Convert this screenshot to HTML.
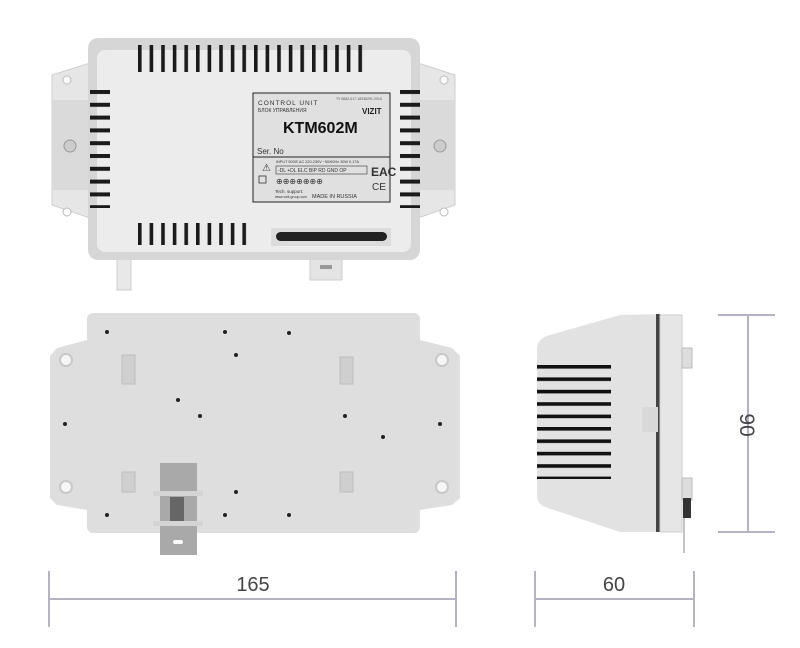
<!DOCTYPE html>
<html><head><meta charset="utf-8"><style>
html,body{margin:0;padding:0;background:#fff}
svg{display:block}
text{font-family:"Liberation Sans",sans-serif}
</style></head><body>
<svg width="800" height="648" viewBox="0 0 800 648" xmlns="http://www.w3.org/2000/svg">
<defs>
<pattern id="pv" x="138" y="0" width="11.6" height="10" patternUnits="userSpaceOnUse"><rect x="0" y="0" width="3.6" height="10" fill="#1a1a1a"/></pattern>
<pattern id="ph" x="0" y="90" width="10" height="12.8" patternUnits="userSpaceOnUse"><rect x="0" y="0" width="10" height="4" fill="#1a1a1a"/></pattern>
<pattern id="ps" x="0" y="365" width="10" height="12.4" patternUnits="userSpaceOnUse"><rect x="0" y="0" width="10" height="3.6" fill="#111"/></pattern>
</defs>

<!-- ===== TOP VIEW ===== -->
<polygon points="90,63 52,75 52,205 90,218" fill="#e6e6e6" stroke="#cfcfcf"/>
<polygon points="418,63 455,75 455,205 418,218" fill="#e6e6e6" stroke="#cfcfcf"/>
<rect x="52" y="100" width="38" height="90" fill="#dadada"/>
<rect x="418" y="100" width="37" height="90" fill="#dadada"/>
<circle cx="67" cy="80" r="4" fill="#fff" stroke="#bbb"/>
<circle cx="67" cy="212" r="4" fill="#fff" stroke="#bbb"/>
<circle cx="444" cy="80" r="4" fill="#fff" stroke="#bbb"/>
<circle cx="444" cy="212" r="4" fill="#fff" stroke="#bbb"/>
<circle cx="70" cy="146" r="6" fill="#ccc" stroke="#999"/>
<circle cx="440" cy="146" r="6" fill="#ccc" stroke="#999"/>
<rect x="117" y="254" width="14" height="36" fill="#e8e8e8" stroke="#ccc"/>
<rect x="310" y="252" width="32" height="28" fill="#e4e4e4" stroke="#ccc"/>
<rect x="320" y="265" width="12" height="4" fill="#999"/>
<rect x="88" y="38" width="332" height="222" rx="10" fill="#d6d6d6"/>
<rect x="97" y="50" width="314" height="202" rx="8" fill="#ececec"/>
<rect x="138" y="45" width="232" height="27" fill="url(#pv)"/>
<rect x="138" y="223" width="116" height="22" fill="url(#pv)"/>
<rect x="90" y="90" width="20" height="118" fill="url(#ph)"/>
<rect x="400" y="90" width="20" height="118" fill="url(#ph)"/>
<rect x="271" y="228" width="120" height="18" fill="#dcdcdc"/>
<rect x="276" y="232" width="111" height="9" rx="4.5" fill="#222"/>
<!-- label -->
<rect x="253" y="93" width="137" height="109" fill="#e0e0e0" stroke="#222" stroke-width="1"/>
<line x1="253" y1="157" x2="390" y2="157" stroke="#222"/>
<text x="258" y="105" font-size="6.5" fill="#333" letter-spacing="1">CONTROL UNIT</text>
<text x="258" y="112" font-size="5" fill="#333">БЛОК УПРАВЛЕНИЯ</text>
<text x="336" y="100" font-size="3.5" fill="#555">ТУ 6652-017-18336291-2015</text>
<text x="362" y="114" font-size="8" font-weight="bold" fill="#222">VIZIT</text>
<text x="283" y="133" font-size="16" font-weight="bold" fill="#111">KTM602M</text>
<text x="257" y="154" font-size="8" fill="#333">Ser. No</text>
<text x="262" y="171" font-size="10" fill="#333">⚠</text>
<text x="276" y="163" font-size="3.8" fill="#333">INPUT 50GE AC 220-230V ~50/60Hz 30W 0.17A</text>
<rect x="259" y="176" width="7" height="7" fill="none" stroke="#333" stroke-width="0.8"/>
<g font-size="5" fill="#333">
<rect x="276" y="166" width="91" height="8" fill="none" stroke="#333" stroke-width="0.6"/>
<text x="278" y="172">-DL +DL ELC BIP  RD GND OP</text>
<text x="276" y="184" font-size="8">⊕⊕⊕⊕⊕⊕⊕</text>
<text x="275" y="193" font-size="4.5">Tech. support:</text>
<text x="275" y="198" font-size="3.5">www.vizit-group.com</text>
<text x="312" y="198" font-size="5.5">MADE  IN  RUSSIA</text>
<text x="371" y="176" font-size="12" font-weight="bold">EAC</text>
<text x="372" y="190" font-size="10">CE</text>
</g>

<!-- ===== BACK VIEW ===== -->
<polygon points="87,340 57,348 50,356 50,498 57,505 87,510 87,340" fill="#dedede"/>
<polygon points="420,340 452,348 460,356 460,498 452,505 420,510" fill="#dedede"/>
<rect x="87" y="313" width="333" height="220" rx="6" fill="#dedede"/>
<g fill="#f6f6f6" stroke="#c8c8c8" stroke-width="2">
<circle cx="66" cy="360" r="6"/><circle cx="442" cy="360" r="6"/>
<circle cx="66" cy="487" r="6"/><circle cx="442" cy="487" r="6"/>
</g>
<g fill="#222">
<circle cx="107" cy="332" r="2"/><circle cx="225" cy="332" r="2"/><circle cx="289" cy="333" r="2"/>
<circle cx="236" cy="355" r="2"/><circle cx="178" cy="400" r="2"/><circle cx="200" cy="416" r="2"/>
<circle cx="345" cy="416" r="2"/><circle cx="65" cy="424" r="2"/><circle cx="440" cy="424" r="2"/>
<circle cx="383" cy="437" r="2"/><circle cx="236" cy="492" r="2"/><circle cx="107" cy="515" r="2"/>
<circle cx="225" cy="515" r="2"/><circle cx="289" cy="515" r="2"/>
</g>
<g fill="#cfcfcf" stroke="#bdbdbd">
<rect x="122" y="355" width="13" height="29"/><rect x="340" y="357" width="13" height="27"/>
<rect x="122" y="472" width="13" height="20"/><rect x="340" y="472" width="13" height="20"/>
</g>
<rect x="160" y="463" width="37" height="92" fill="#a9a9a9"/>
<rect x="153" y="491" width="50" height="5" fill="#d4d4d4"/>
<rect x="153" y="521" width="50" height="5" fill="#d4d4d4"/>
<rect x="170" y="497" width="14" height="24" fill="#666"/>
<rect x="173" y="540" width="10" height="4" rx="2" fill="#fff"/>

<!-- ===== SIDE VIEW ===== -->
<path d="M537,350 Q537,338 550,335 L620,315 L658,314 L658,532 L620,532 L548,508 Q537,505 537,495 Z" fill="#e2e2e2"/>
<rect x="537" y="365" width="74" height="114" fill="url(#ps)"/>
<rect x="656" y="314" width="4" height="218" fill="#444"/>
<rect x="660" y="315" width="22" height="217" fill="#e6e6e6" stroke="#ccc"/>
<rect x="682" y="348" width="10" height="20" fill="#ddd" stroke="#bbb"/>
<rect x="682" y="478" width="10" height="22" fill="#ddd" stroke="#bbb"/>
<rect x="683" y="498" width="8" height="20" fill="#333"/>
<line x1="684" y1="518" x2="684" y2="553" stroke="#888"/>
<rect x="642" y="407" width="16" height="25" fill="#d8d8d8"/>

<!-- ===== DIMENSIONS ===== -->
<g stroke="#b3b3c4" stroke-width="2" fill="none">
<line x1="49" y1="571" x2="49" y2="627"/><line x1="456" y1="571" x2="456" y2="627"/>
<line x1="49" y1="599" x2="456" y2="599"/>
<line x1="535" y1="571" x2="535" y2="627"/><line x1="694" y1="571" x2="694" y2="627"/>
<line x1="535" y1="599" x2="694" y2="599"/>
<line x1="718" y1="315" x2="775" y2="315"/><line x1="718" y1="532" x2="775" y2="532"/>
<line x1="748" y1="315" x2="748" y2="532"/>
</g>
<g fill="#444" font-size="20">
<text x="253" y="591" text-anchor="middle">165</text>
<text x="614" y="591" text-anchor="middle">60</text>
<text transform="translate(740,425) rotate(90)" text-anchor="middle" font-size="21">90</text>
</g>
</svg>
</body></html>
